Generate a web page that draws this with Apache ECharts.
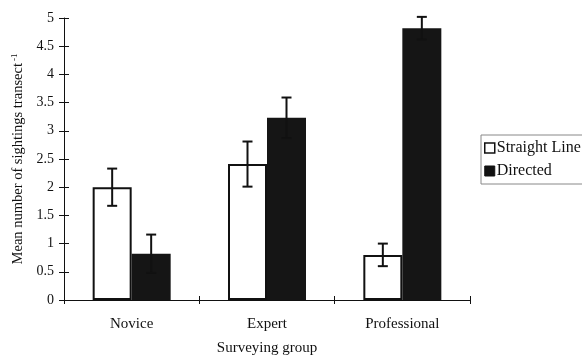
<!DOCTYPE html>
<html><head><meta charset="utf-8">
<script src="https://cdn.jsdelivr.net/npm/echarts@6/dist/echarts.min.js"></script>
<style>html,body{margin:0;padding:0;background:#fff}#c{width:582px;height:357px}</style>
</head><body><div id="c"></div>
<script>
var categories = ['Novice', 'Expert', 'Professional'];
var straightLine = [2.0, 2.41, 0.80];
var straightLineErr = [0.33, 0.40, 0.20];
var directed = [0.82, 3.23, 4.82];
var directedErr = [0.34, 0.36, 0.20];
var yTicks = [0, 0.5, 1, 1.5, 2, 2.5, 3, 3.5, 4, 4.5, 5];

var FONT = 'Liberation Serif';
var BW = 39;

function errSeries(name, vals, errs, offset) {
  return {
    type: 'custom', name: name + ' err', silent: true, z: 10,
    data: vals.map(function (v, i) { return [i, v, errs[i]]; }),
    renderItem: function (params, api) {
      var i = api.value(0), v = api.value(1), e = api.value(2);
      var hi = api.coord([i, v + e]), lo = api.coord([i, v - e]);
      var x = hi[0] + offset;
      var cap = 5;
      var st = { stroke: '#111', lineWidth: 2 };
      return { type: 'group', children: [
        { type: 'line', shape: { x1: x, y1: hi[1], x2: x, y2: lo[1] }, style: st },
        { type: 'line', shape: { x1: x - cap, y1: hi[1], x2: x + cap, y2: hi[1] }, style: st },
        { type: 'line', shape: { x1: x - cap, y1: lo[1], x2: x + cap, y2: lo[1] }, style: st }
      ]};
    }
  };
}

var chart = echarts.init(document.getElementById('c'));
chart.setOption({
  animation: false,
  textStyle: { fontFamily: FONT },
  grid: { left: 64, right: 112, top: 18, bottom: 57, containLabel: false, outerBoundsMode: 'none' },
  legend: {
    orient: 'vertical', left: 481, top: 135,
    padding: [5, 14, 5, 3], itemGap: 7,
    borderColor: '#888', borderWidth: 1, backgroundColor: '#fff',
    icon: 'rect', itemWidth: 10, itemHeight: 10,
    textStyle: { fontFamily: FONT, fontSize: 16, color: '#111', padding: [0, 0, 0, -3] },
    data: [
      { name: 'Straight Line', itemStyle: { color: '#fff', borderColor: '#111', borderWidth: 1.5 } },
      { name: 'Directed', itemStyle: { color: '#111', borderColor: '#111', borderWidth: 1 } }
    ]
  },
  xAxis: [{
    type: 'category', data: categories,
    name: 'Surveying group', nameLocation: 'middle', nameGap: 41,
    nameTextStyle: { fontFamily: FONT, fontSize: 15, color: '#111' },
    axisLine: { lineStyle: { color: '#111', width: 1 } },
    axisTick: { show: true, length: 4, lineStyle: { color: '#111' } },
    axisLabel: { fontFamily: FONT, fontSize: 15, color: '#111', margin: 17 }
  }, {
    type: 'category', data: categories, position: 'bottom',
    axisLine: { show: false },
    axisTick: { show: true, inside: true, length: 4, lineStyle: { color: '#111' } },
    axisLabel: { show: false }
  }],
  yAxis: [{
    type: 'value', min: 0, max: 5, interval: 0.5,
    name: '{a|Mean number of sightings transect}{b|-1}',
    nameLocation: 'middle', nameGap: 38, nameRotate: 90,
    nameTextStyle: {
      fontFamily: FONT, fontSize: 14.5, color: '#111',
      rich: {
        a: { fontFamily: FONT, fontSize: 14.5, color: '#111' },
        b: { fontFamily: FONT, fontSize: 9, color: '#111', verticalAlign: 'top', padding: [0, 0, 6, 2] }
      }
    },
    splitLine: { show: false },
    axisLine: { show: true, lineStyle: { color: '#111', width: 1 } },
    axisTick: { show: true, length: 5, lineStyle: { color: '#111' } },
    axisLabel: { fontFamily: FONT, fontSize: 14, color: '#111', margin: 10,
      formatter: function (v) { return yTicks.indexOf(v) >= 0 ? String(v) : ''; } }
  }, {
    type: 'value', min: 0, max: 5, interval: 0.5, position: 'left',
    splitLine: { show: false },
    axisLine: { show: false },
    axisTick: { show: true, inside: true, length: 5, lineStyle: { color: '#111' } },
    axisLabel: { show: false }
  }],
  series: [
    { type: 'bar', name: 'Straight Line', data: straightLine, barWidth: BW, barGap: '0%',
      itemStyle: { color: '#fff', borderColor: '#111', borderWidth: 2 } },
    { type: 'bar', name: 'Directed', data: directed, barWidth: BW, barGap: '0%',
      itemStyle: { color: '#151515', borderColor: '#151515', borderWidth: 0 } },
    errSeries('Straight Line', straightLine, straightLineErr, -BW / 2),
    errSeries('Directed', directed, directedErr, BW / 2)
  ]
});
</script></body></html>
